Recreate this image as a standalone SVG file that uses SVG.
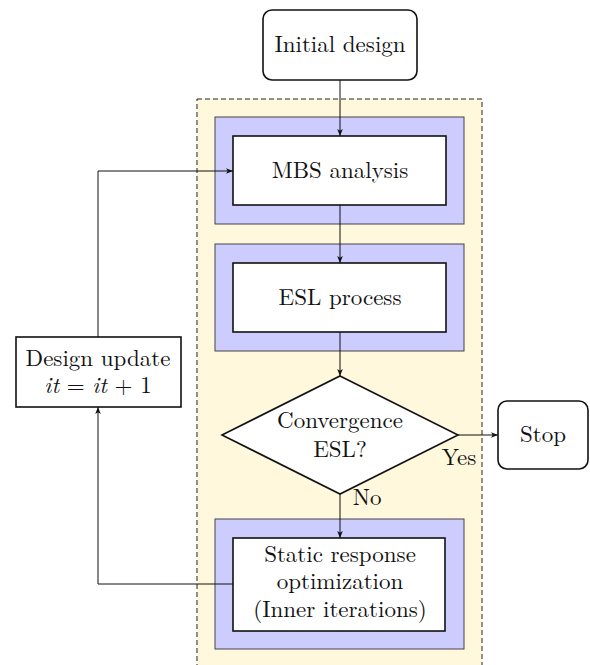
<svg xmlns="http://www.w3.org/2000/svg" width="590" height="665" viewBox="0 0 590 665">
<style>
.node{fill:#fff;stroke:#111;stroke-width:1.6}
.outer{fill:#ccccff;stroke:#444;stroke-width:1}
.conn{fill:none;stroke:#111;stroke-width:1}
</style>
<defs>
<marker id="ah" viewBox="0 0 10 10" refX="10" refY="5" markerWidth="7" markerHeight="7" markerUnits="userSpaceOnUse" orient="auto">
<path d="M0,1 L10,5 L0,9 L2.5,5 z" fill="#111"/>
</marker>
</defs>
<g font-family="'Latin Modern Roman'" font-size="23" fill="#111" text-anchor="middle">
<rect id="container" x="197" y="99" width="285" height="580" fill="#fff8dc" stroke="#222" stroke-width="1" stroke-dasharray="5,3"/>
<g id="initial"><rect class="node" x="263" y="10" width="154" height="70" rx="9"/><text x="340" y="52" font-family="'Latin Modern Roman'">Initial design</text></g>
<g id="mbs"><rect class="outer" x="215" y="117" width="249" height="107"/><rect class="node" x="233" y="136" width="213" height="69"/><text x="340" y="178" font-family="'Latin Modern Roman'">MBS analysis</text></g>
<g id="esl"><rect class="outer" x="215" y="244" width="249" height="107"/><rect class="node" x="233" y="263" width="213" height="69"/><text x="340" y="305" font-family="'Latin Modern Roman'">ESL process</text></g>
<g id="conv"><polygon class="node" points="340,376 458,435 340,494 222,435"/><text x="340" y="428" font-family="'Latin Modern Roman'">Convergence</text><text x="340" y="457" font-family="'Latin Modern Roman'">ESL?</text></g>
<g id="stop"><rect class="node" x="498" y="401" width="90" height="68" rx="9"/><text x="543" y="442" font-family="'Latin Modern Roman'">Stop</text></g>
<g id="static"><rect class="outer" x="215" y="519" width="249" height="130"/><rect class="node" x="233" y="538" width="212" height="93"/><text x="340" y="562" font-family="'Latin Modern Roman'">Static response</text><text x="340" y="589" font-family="'Latin Modern Roman'">optimization</text><text x="340" y="617" font-family="'Latin Modern Roman'">(Inner iterations)</text></g>
<g id="update"><rect class="node" x="16" y="337" width="165" height="70"/><text x="98" y="366" font-family="'Latin Modern Roman'">Design update</text><text x="98" y="393" font-family="'Latin Modern Roman'"><tspan font-style="italic">it</tspan> = <tspan font-style="italic">it</tspan> + 1</text></g>
<g id="connectors">
<line class="conn" x1="340" y1="80" x2="340" y2="136" marker-end="url(#ah)"/>
<line class="conn" x1="340" y1="205" x2="340" y2="263" marker-end="url(#ah)"/>
<line class="conn" x1="340" y1="332" x2="340" y2="376" marker-end="url(#ah)"/>
<line class="conn" x1="340" y1="494" x2="340" y2="538" marker-end="url(#ah)"/>
<line class="conn" x1="458" y1="435" x2="498" y2="435" marker-end="url(#ah)"/>
<polyline class="conn" points="233,584 98,584 98,407" marker-end="url(#ah)"/>
<polyline class="conn" points="98,337 98,171 233,171" marker-end="url(#ah)"/>
<text x="459" y="465" font-family="'Latin Modern Roman'">Yes</text>
<text x="367" y="505" font-family="'Latin Modern Roman'">No</text>
</g>
</g>
</svg>
